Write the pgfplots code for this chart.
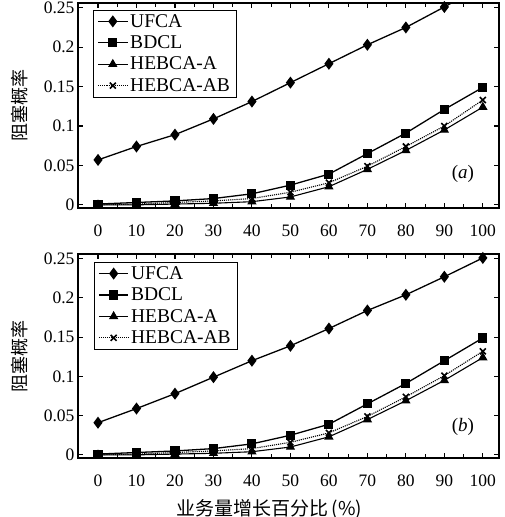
\documentclass[border=0pt]{standalone}
\usepackage{pgfplots}
\pgfplotsset{compat=1.18}
\usepackage{fontspec}
\setmainfont{Liberation Serif}
\newfontfamily\cjk{Noto Sans CJK SC}

\pgfplotsset{
  blk/.style={
    width=421pt,height=205pt,scale only axis,
    xmin=-5.2,xmax=104.2,ymin=-0.004,ymax=0.256,
    xtick={0,10,...,100},minor xtick={5,15,...,95},
    ytick={0,0.05,0.1,0.15,0.2,0.25},
    xticklabel={\rmfamily\pgfmathprintnumber[assume math mode=true]{\tick}},
    yticklabels={\rmfamily 0,\rmfamily 0.05,\rmfamily 0.1,\rmfamily 0.15,\rmfamily 0.2,\rmfamily 0.25},
    tick align=inside,major tick length=5pt,minor tick length=4pt,
    axis line style={line width=1.6pt},
    every tick/.style={line width=1.1pt,black},
    tick label style={font=\fontsize{17.5}{19}\selectfont},
    xticklabel style={yshift=-13pt},
    legend style={draw=black,thin,font=\fontsize{19.5}{21}\selectfont,
      at={(0.036,0.966)},anchor=north west,inner xsep=4pt,inner ysep=2pt,row sep=3pt,
      cells={anchor=west}},
    legend image code/.code={\draw[mark repeat=2,mark phase=2,##1]
      plot coordinates {(0cm,0cm)(0.52cm,0cm)(1.04cm,0cm)};},
    ylabel={\cjk 阻塞概率},
    ylabel style={font=\fontsize{18}{20}\selectfont,yshift=9pt},
  },
  s1/.style={black,line width=1.3pt,mark=diamond*,mark size=5pt},
  s2/.style={black,line width=1.3pt,mark=square*,mark size=3.9pt},
  s3/.style={black,line width=1.1pt,mark=triangle*,mark size=4.3pt,mark options={solid}},
  s4/.style={black,line width=1.1pt,densely dotted,mark=x,mark size=4.2pt,mark options={solid,line width=1.6pt}},
}

\begin{document}
\begin{tikzpicture}
\path[use as bounding box] (0,0) rectangle (504pt,-517pt);

\begin{axis}[blk,at={(78pt,-3pt)},anchor=north west]
\addplot[s1] coordinates {(0,0.057) (10,0.074) (20,0.089) (30,0.109) (40,0.131) (50,0.155) (60,0.179) (70,0.203) (80,0.225) (90,0.251) (100,0.278)};
\addplot[s2] coordinates {(0,0.001) (10,0.003) (20,0.005) (30,0.008) (40,0.014) (50,0.025) (60,0.039) (70,0.065) (80,0.091) (90,0.121) (100,0.149)};
\addplot[s3] coordinates {(0,0.000) (10,0.000) (20,0.001) (30,0.002) (40,0.004) (50,0.010) (60,0.023) (70,0.045) (80,0.069) (90,0.095) (100,0.124)};
\addplot[s4] coordinates {(0,0.000) (10,0.001) (20,0.003) (30,0.005) (40,0.008) (50,0.016) (60,0.028) (70,0.049) (80,0.074) (90,0.100) (100,0.133)};
\legend{UFCA,BDCL,HEBCA-A,HEBCA-AB}
\node[font=\fontsize{19}{21}\selectfont] at (axis cs:94.8,0.039) {(\textit{a})};
\end{axis}

\begin{axis}[blk,height=204pt,at={(78pt,-254pt)},anchor=north west,
  legend style={at={(0.038,0.96)}},
  xlabel={\cjk 业务量增长百分比\,(\%)},
  xlabel style={font=\fontsize{19}{21}\selectfont,xshift=-19pt,yshift=-6pt}]
\addplot[s1] coordinates {(0,0.041) (10,0.059) (20,0.078) (30,0.099) (40,0.120) (50,0.139) (60,0.161) (70,0.184) (80,0.204) (90,0.227) (100,0.251)};
\addplot[s2] coordinates {(0,0.001) (10,0.003) (20,0.005) (30,0.008) (40,0.014) (50,0.025) (60,0.039) (70,0.065) (80,0.091) (90,0.120) (100,0.149)};
\addplot[s3] coordinates {(0,0.000) (10,0.000) (20,0.001) (30,0.002) (40,0.004) (50,0.010) (60,0.023) (70,0.045) (80,0.069) (90,0.095) (100,0.124)};
\addplot[s4] coordinates {(0,0.000) (10,0.001) (20,0.003) (30,0.005) (40,0.008) (50,0.016) (60,0.028) (70,0.049) (80,0.074) (90,0.101) (100,0.132)};
\legend{UFCA,BDCL,HEBCA-A,HEBCA-AB}
\node[font=\fontsize{19}{21}\selectfont] at (axis cs:94.8,0.035) {(\textit{b})};
\end{axis}
\end{tikzpicture}
\end{document}
